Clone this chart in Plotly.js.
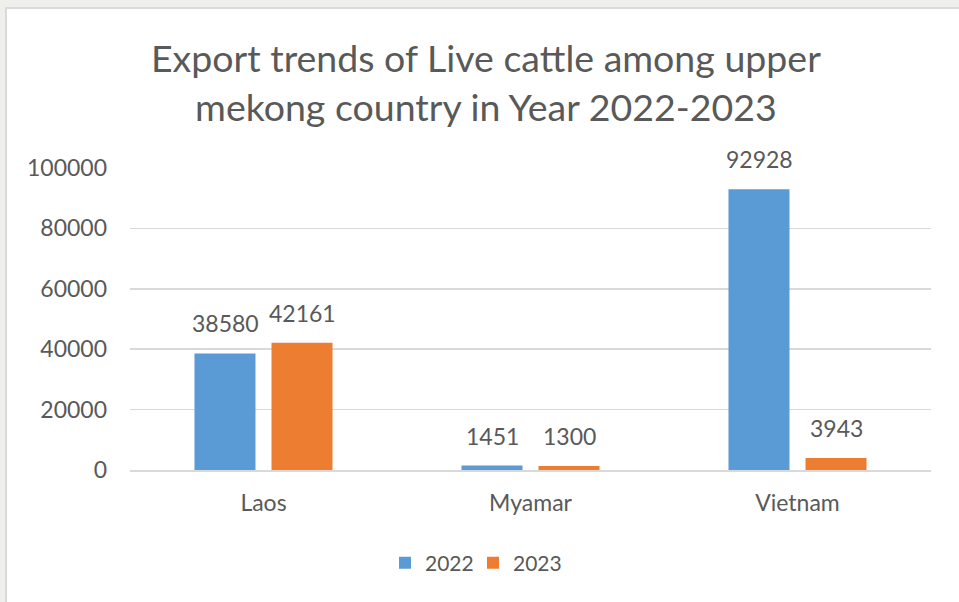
<!DOCTYPE html>
<html>
<head>
<meta charset="utf-8">
<script src="https://cdn.plot.ly/plotly-3.0.1.min.js"></script>
<style>
html,body{margin:0;padding:0;background:#efefeb;width:959px;height:602px;overflow:hidden;}
#frame{position:absolute;left:5px;top:7px;border-left:2px solid #dadada;border-top:2px solid #dadada;background:#fff;}
#chart{width:952px;height:593px;}
</style>
</head>
<body>
<div id="frame"><div id="chart"></div></div>
<script>
const categories = ["Laos", "Myamar", "Vietnam"];
const seriesNames = ["2022", "2023"];
const values2022 = [38580, 1451, 92928];
const values2023 = [42161, 1300, 3943];
const yTicks = [0, 20000, 40000, 60000, 80000, 100000];
const titleText = "Export trends of Live cattle among upper<br>mekong country in Year 2022-2023";

const FONT = "Lato, 'Open Sans', sans-serif";
const TXT = "#595959";
const colors = ["#5b9bd5", "#ed7d31"];
const allSeries = [values2022, values2023];
const legendIds = ["legend", "legend2"];

const traces = allSeries.map((vals, i) => ({
  type: "bar",
  name: seriesNames[i],
  x: categories,
  y: vals,
  marker: {color: colors[i]},
  legend: legendIds[i],
  hoverinfo: "x+y"
}));

const shifts = [-38.5, 38.5];
const annotations = [];
allSeries.forEach((vals, i) => {
  vals.forEach((v, j) => {
    annotations.push({
      x: categories[j], y: v, xref: "x", yref: "y",
      text: String(v), showarrow: false,
      xshift: shifts[i], yshift: 14, yanchor: "bottom",
      font: {family: FONT, size: 23, color: TXT}
    });
  });
});

function legendCfg(px) {
  return {
    orientation: "h",
    xref: "container", x: px / 952, xanchor: "left",
    yref: "container", y: 1 - 554/593, yanchor: "middle",
    bgcolor: "rgba(0,0,0,0)",
    font: {family: FONT, size: 21, color: TXT},
    itemclick: false, itemdoubleclick: false
  };
}

const layout = {
  width: 952, height: 593,
  paper_bgcolor: "#ffffff", plot_bgcolor: "#ffffff",
  margin: {l: 123, r: 28, t: 159, b: 132},
  title: {
    text: titleText,
    font: {family: FONT, size: 37.5, color: TXT},
    xref: "container", x: 0.503, xanchor: "center",
    yref: "container", y: 0.8935, yanchor: "top"
  },
  barmode: "group",
  bargap: 0.423,
  bargroupgap: 0.208,
  xaxis: {
    type: "category",
    showgrid: false,
    showline: true, linecolor: "#d9d9d9", linewidth: 1.5,
    ticks: "", ticklabelstandoff: 12,
    tickfont: {family: FONT, size: 23, color: TXT},
    fixedrange: true
  },
  yaxis: {
    range: [0, 100000],
    tickvals: yTicks,
    ticktext: yTicks.map(String),
    showgrid: true, gridcolor: "#d9d9d9", gridwidth: 1.5,
    zeroline: false, showline: false,
    ticks: "", ticklabelstandoff: 22,
    tickfont: {family: FONT, size: 23, color: TXT},
    fixedrange: true
  },
  showlegend: true,
  legend: legendCfg(378),
  legend2: legendCfg(466),
  annotations: annotations,
  hovermode: false
};

Plotly.newPlot("chart", traces, layout, {displayModeBar: false, staticPlot: true});
</script>
</body>
</html>
